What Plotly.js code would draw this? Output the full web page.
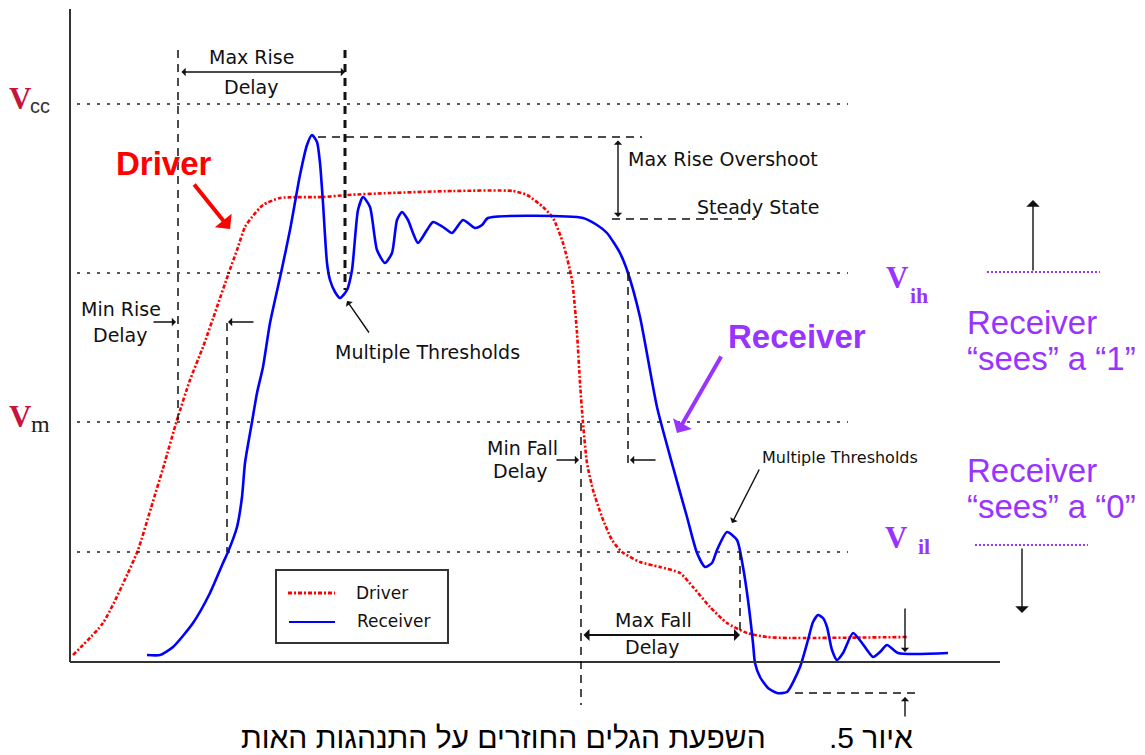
<!DOCTYPE html>
<html><head><meta charset="utf-8">
<script src="https://cdn.plot.ly/plotly-3.0.1.min.js"></script>
<style>html,body{margin:0;padding:0;background:#fff}#chart{width:1145px;height:755px}</style>
</head><body><div id="chart"></div>
<script>
// ---- data: time (ns) and voltage (V) ----
const driverT = [0.03,0.33,0.58,0.68,0.81,0.94,1.07,1.20,1.33,1.47,1.58,1.67,1.75,1.82,1.93,2.10,2.53,2.77,3.20,3.83,4.43,4.57,4.73,4.83,4.93,5.02,5.07,5.10,5.13,5.17,5.23,5.32,5.42,5.52,5.70,5.90,6.10,6.23,6.40,6.57,6.77,6.97,7.20,8.37];
const driverV = [0.07,0.39,0.89,1.12,1.54,1.97,2.42,2.82,3.15,3.55,3.87,4.12,4.35,4.45,4.57,4.64,4.65,4.67,4.69,4.71,4.71,4.67,4.55,4.44,4.19,3.82,3.29,2.79,2.39,1.99,1.72,1.45,1.22,1.10,1.00,0.95,0.89,0.75,0.55,0.39,0.29,0.25,0.24,0.25];
const receiverT = [0.77,0.90,1.03,1.23,1.40,1.53,1.58,1.67,1.72,1.75,1.82,1.87,1.93,2.00,2.11,2.20,2.30,2.37,2.42,2.47,2.50,2.53,2.57,2.60,2.65,2.70,2.77,2.82,2.88,2.93,3.00,3.07,3.15,3.22,3.27,3.32,3.38,3.43,3.48,3.57,3.63,3.73,3.82,3.93,4.05,4.12,4.18,5.13,5.27,5.37,5.50,5.58,5.70,5.87,6.03,6.17,6.27,6.35,6.42,6.47,6.57,6.67,6.73,6.78,6.83,6.85,6.90,6.98,7.07,7.17,7.30,7.38,7.43,7.48,7.53,7.57,7.62,7.67,7.73,7.83,7.92,8.03,8.10,8.17,8.28,8.78];
const receiverV = [0.07,0.07,0.15,0.39,0.69,0.99,1.10,1.35,1.65,1.99,2.40,2.69,2.95,3.39,3.89,4.32,4.87,5.17,5.27,5.20,4.99,4.59,3.99,3.82,3.70,3.64,3.72,3.92,4.52,4.65,4.55,4.12,3.99,4.09,4.42,4.50,4.42,4.29,4.19,4.32,4.40,4.35,4.29,4.42,4.34,4.37,4.44,4.44,4.37,4.29,4.09,3.89,3.45,2.55,1.95,1.45,1.09,0.95,0.99,1.12,1.30,1.22,0.95,0.62,0.19,-0.01,-0.15,-0.26,-0.31,-0.30,-0.05,0.22,0.40,0.47,0.44,0.35,0.12,0.02,0.09,0.29,0.19,0.05,0.10,0.17,0.09,0.09];
const levelNames = ['cc','ih','m','il'];
const levelValues = [5.58, 3.89, 2.40, 1.10];
const seriesNames = ['Driver','Receiver'];
const caption = ['איור 5.', 'השפעת הגלים החוזרים על התנהגות האות'];

// ---- layout helpers (picture pixel -> axis units) ----
const X = p => (p - 70) / 100;
const Y = p => (662 - p) / 100;
const RED = '#ff0000', BLUE = '#0000ff', PURPLE = '#9933ff', INK = '#111111', CRIMSON = '#c8143c';
const TXT = 'DejaVu Sans';

const shapes = [];
const annotations = [];
function seg(x0, y0, x1, y1, color, width, dash) {
  shapes.push({type:'line', xref:'x', yref:'y', x0:X(x0), y0:Y(y0), x1:X(x1), y1:Y(y1), line:{color:color, width:width, dash:dash || 'solid'}});
}
function txt(x, y, text, font, opts) {
  annotations.push(Object.assign({xref:'x', yref:'y', x:X(x), y:Y(y), text:text, showarrow:false,
    xanchor:'center', yanchor:'middle', font:font}, opts || {}));
}
function arrow(x0, y0, x1, y1, opts) {
  annotations.push(Object.assign({xref:'x', yref:'y', axref:'x', ayref:'y', x:X(x1), y:Y(y1), ax:X(x0), ay:Y(y0),
    text:'', showarrow:true, arrowhead:1, arrowsize:1, arrowwidth:1.4, arrowcolor:INK, standoff:0, startstandoff:0}, opts || {}));
}
const lab = {family:TXT, size:19, color:INK};

// axes
seg(70, 9, 70, 662, '#333', 2);
seg(70, 662, 1000, 662, '#333', 2);

// threshold levels (dotted)
levelValues.forEach(v => {
  shapes.push({type:'line', xref:'x', yref:'y', x0:X(77), x1:X(848), y0:v, y1:v, line:{color:'#222', width:1.5, dash:'3px,7px'}});
});

// dashed markers
const D = '8px,6px';
seg(178, 50, 178, 420, INK, 1.5, D);
seg(345, 50, 345, 290, INK, 3, D);
seg(227, 323, 227, 552, INK, 1.5, D);
seg(581, 423, 581, 705, INK, 1.5, D);
seg(628, 273, 628, 463, INK, 1.5, D);
seg(740, 552, 740, 633, INK, 1.5, D);
seg(318, 137, 642, 137, INK, 1.5, D);
seg(612, 219, 755, 219, INK, 1.5, D);
seg(795, 693, 917, 693, INK, 1.5, D);

// right-hand purple dotted marks
seg(987, 272, 1100, 272, PURPLE, 2, '2px,2px');
seg(975, 545, 1088, 545, PURPLE, 2, '2px,2px');

// arrows
arrow(180, 72, 345, 72, {arrowside:'end+start'});
arrow(618, 139, 618, 217, {arrowside:'end+start'});
arrow(152, 322, 176, 322);
arrow(255, 322, 228, 322);
arrow(555, 460, 579, 460);
arrow(657, 460, 630, 460);
arrow(582, 635, 740, 635, {arrowside:'end+start', arrowwidth:2});
arrow(905, 607, 905, 652);
arrow(905, 718, 905, 697);
arrow(370, 334, 347, 301);
arrow(760, 468, 732, 523);
arrow(1033, 272, 1033, 200, {arrowsize:1.6});
arrow(1022, 547, 1022, 613, {arrowsize:1.6});
arrow(193, 183, 230, 229, {arrowcolor:RED, arrowwidth:4, arrowsize:0.9});
arrow(722, 355, 677, 433, {arrowcolor:PURPLE, arrowwidth:4, arrowsize:0.9});

// labels
txt(251, 57, 'Max Rise', lab);
txt(251, 87, 'Delay', lab);
txt(121, 309, 'Min Rise', lab);
txt(120, 335, 'Delay', lab);
txt(522, 448, 'Min Fall', lab);
txt(520, 471, 'Delay', lab);
txt(653, 620, 'Max Fall', lab);
txt(652, 647, 'Delay', lab);
txt(626, 159, 'Max Rise Overshoot', lab, {xanchor:'left'});
txt(695, 207, 'Steady State', lab, {xanchor:'left'});
txt(333, 352, 'Multiple Thresholds', lab, {xanchor:'left'});
txt(760, 457, 'Multiple Thresholds', {family:TXT, size:16, color:INK}, {xanchor:'left'});
txt(164, 163, '<b>Driver</b>', {family:'Liberation Sans', size:33, color:RED});
txt(797, 336, '<b>Receiver</b>', {family:'Liberation Sans', size:33, color:PURPLE});
txt(965, 322, 'Receiver', {family:'Liberation Sans', size:33, color:PURPLE}, {xanchor:'left'});
txt(965, 358, '“sees” a “1”', {family:'Liberation Sans', size:33, color:PURPLE}, {xanchor:'left'});
txt(965, 470, 'Receiver', {family:'Liberation Sans', size:33, color:PURPLE}, {xanchor:'left'});
txt(965, 506, '“sees” a “0”', {family:'Liberation Sans', size:33, color:PURPLE}, {xanchor:'left'});

// level names
const serif = (size, color) => ({family:'Liberation Serif', size:size, color:color});
const levelPos = [[20, 40, 'left'], [897, 919, 'right'], [20, 40, 'left'], [896, 924, 'right']];
levelNames.forEach((n, i) => {
  const py = 662 - levelValues[i] * 100;
  const right = levelPos[i][2] === 'right';
  const vy = right ? (i === 1 ? 277 : 537) : py - 6;
  const sy = right ? (i === 1 ? 295 : 546) : py + 2;
  txt(levelPos[i][0], vy, '<b>V</b>', serif(31, right ? PURPLE : CRIMSON));
  if (right) txt(levelPos[i][1], sy, '<b>' + n + '</b>', serif(22, PURPLE));
  else if (n === 'cc') txt(levelPos[i][1], sy, n, {family:'Liberation Sans', size:20, color:'#333'});
  else txt(levelPos[i][1], sy, n, serif(24, '#222'));
});

// legend box
shapes.push({type:'rect', xref:'x', yref:'y', x0:X(276), x1:X(448), y0:Y(570), y1:Y(643), line:{color:'#333', width:2}, fillcolor:'rgba(0,0,0,0)'});
seg(288, 593, 335, 593, RED, 3, '4px,2px,2px,2px');
seg(289, 622, 335, 622, BLUE, 2);
txt(354, 593, seriesNames[0], {family:TXT, size:17, color:INK}, {xanchor:'left'});
txt(355, 621, seriesNames[1], {family:TXT, size:17, color:INK}, {xanchor:'left'});

// caption (right-to-left isolate so the figure number reads correctly)
txt(915, 737, '\u2067' + caption[0] + '\u2069', {family:'Liberation Sans', size:30, color:'#000'}, {xanchor:'right'});
txt(768, 737, '\u2067' + caption[1] + '\u2069', {family:'Liberation Sans', size:30, color:'#000'}, {xanchor:'right'});

const traces = [
  {x:driverT, y:driverV, name:seriesNames[0], mode:'lines', line:{color:RED, width:2.6, dash:'4px,2px,2px,2px', shape:'spline', smoothing:0.6}},
  {x:receiverT, y:receiverV, name:seriesNames[1], mode:'lines', line:{color:BLUE, width:2.6, shape:'spline', smoothing:0.6}}
];

const layout = {
  width:1145, height:755, margin:{l:0, r:0, t:0, b:0}, autosize:false,
  paper_bgcolor:'#ffffff', plot_bgcolor:'#ffffff', showlegend:false,
  xaxis:{range:[X(0), X(1145)], visible:false, fixedrange:true},
  yaxis:{range:[Y(755), Y(0)], visible:false, fixedrange:true},
  shapes:shapes, annotations:annotations
};
Plotly.newPlot('chart', traces, layout, {displayModeBar:false, staticPlot:true});
</script></body></html>
